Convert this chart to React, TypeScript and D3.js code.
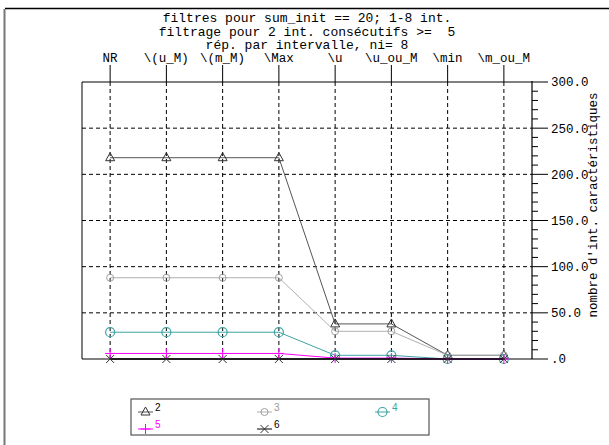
import React from "react";
import * as d3 from "d3";

const titleLines = [
  "filtres pour sum_init == 20; 1-8 int.",
  "filtrage pour 2 int. consécutifs >=  5",
  "rép. par intervalle, ni= 8",
];
const categories = ["NR", "\\(u_M)", "\\(m_M)", "\\Max", "\\u", "\\u_ou_M", "\\min", "\\m_ou_M"];
const seriesNames = ["2", "3", "4", "5", "6"];
const s2 = [218, 218, 218, 218, 38, 38, 4, 4];
const s3 = [88, 88, 88, 88, 30, 30, 4, 4];
const s4 = [29, 29, 29, 29, 4, 4, 0, 0];
const s5 = [6, 6, 6, 6, 1, 1, 0, 0];
const s6 = [0, 0, 0, 0, 0, 0, 0, 0];
const yTicksMajor = [0, 50, 100, 150, 200, 250, 300];
const yTitle = "nombre d'int. caractéristiques";

const W = 609, H = 445;
const L = 82, R = 532, T = 82, B = 359;
const MONO = "'Liberation Mono', 'Courier New', monospace";

type Sym = "tri" | "circ" | "ring" | "plus" | "x";
const seriesDefs: { name: string; values: number[]; color: string; mcolor: string; sym: Sym; text: string }[] = [
  { name: seriesNames[0], values: s2, color: "#555", mcolor: "#333", sym: "tri", text: "#000" },
  { name: seriesNames[1], values: s3, color: "#b0b0b0", mcolor: "#a0a0a0", sym: "circ", text: "#999" },
  { name: seriesNames[2], values: s4, color: "#3fa3a3", mcolor: "#3fa3a3", sym: "ring", text: "#3fa3a3" },
  { name: seriesNames[3], values: s5, color: "#ff00ff", mcolor: "#ff00ff", sym: "plus", text: "#ff00ff" },
  { name: seriesNames[4], values: s6, color: "#000", mcolor: "#333", sym: "x", text: "#000" },
];

function Marker({ sym, x, y, c }: { sym: Sym; x: number; y: number; c: string }) {
  switch (sym) {
    case "tri":
      return <path d={`M${x},${y - 5}L${x + 4.5},${y + 3}L${x - 4.5},${y + 3}Z`} fill="white" fillOpacity={0} stroke={c} strokeWidth={1} />;
    case "circ":
      return <circle cx={x} cy={y} r={3.5} fill="none" stroke={c} strokeWidth={1} />;
    case "ring":
      return <circle cx={x} cy={y} r={4.5} fill="none" stroke={c} strokeWidth={1.2} />;
    case "plus":
      return <path d={`M${x - 5},${y}H${x + 5}M${x},${y - 5}V${y + 5}`} stroke={c} strokeWidth={1} />;
    case "x":
      return <path d={`M${x - 4},${y - 4}L${x + 4},${y + 4}M${x + 4},${y - 4}L${x - 4},${y + 4}`} stroke={c} strokeWidth={1} />;
  }
}

export default function App() {
  const x = d3.scalePoint<string>().domain(categories).range([L, R]).padding(0.5);
  const y = d3.scaleLinear().domain([0, 300]).range([B, T]);
  const minorTicks = d3.range(0, 301, 10).filter((v) => v % 50 !== 0);
  const line = d3
    .line<number>()
    .x((_, i) => x(categories[i]) as number)
    .y((d) => y(d));
  const fmt = (v: number) => {
    const s = d3.format(".1f")(v);
    return s.startsWith("0") ? s.slice(1) : s;
  };

  const legendCols = [138, 257, 375];
  const legendRows = [412, 429];

  return (
    <svg width={W} height={H} style={{ position: "absolute", left: 0, top: 0, background: "white" }}>
      <rect x={0} y={0} width={W} height={H} fill="white" />
      {/* outer frame lines */}
      <line x1={5} x2={W} y1={8.5} y2={8.5} stroke="#000" strokeWidth={1.5} />
      <line x1={4.5} x2={4.5} y1={9} y2={H} stroke="#777" strokeWidth={2} />

      {/* titles */}
      {titleLines.map((t, i) => (
        <text key={i} x={307} y={22 + i * 13.5} textAnchor="middle" fontFamily={MONO} fontSize={13} xmlSpace="preserve" style={{ whiteSpace: "pre" }}>
          {t}
        </text>
      ))}

      {/* category labels and verticals */}
      {categories.map((c) => {
        const cx = x(c) as number;
        return (
          <g key={c}>
            <text x={cx} y={62} textAnchor="middle" fontFamily={MONO} fontSize={12.5}>
              {c}
            </text>
            <line x1={cx} x2={cx} y1={65} y2={T} stroke="#000" strokeWidth={1} />
            <line x1={cx} x2={cx} y1={T} y2={B} stroke="#000" strokeWidth={1} strokeDasharray="4,3" />
          </g>
        );
      })}

      {/* horizontal grid */}
      {yTicksMajor
        .filter((v) => v > 0 && v < 300)
        .map((v) => (
          <line key={v} x1={L} x2={R} y1={y(v)} y2={y(v)} stroke="#000" strokeWidth={1} strokeDasharray="4,3" />
        ))}

      {/* frame */}
      <line x1={L} x2={R} y1={T} y2={T} stroke="#000" strokeWidth={1} />
      <line x1={L} x2={L} y1={T} y2={B} stroke="#000" strokeWidth={1} />
      <line x1={L} x2={R} y1={B} y2={B} stroke="#000" strokeWidth={1} />
      <line x1={R} x2={R} y1={T - 1} y2={B} stroke="#000" strokeWidth={1.2} />

      {/* right axis ticks */}
      {yTicksMajor.map((v) => (
        <g key={v}>
          <line x1={R} x2={R + 16} y1={y(v)} y2={y(v)} stroke="#000" strokeWidth={1} />
          <text x={551} y={y(v)} dy="0.35em" fontFamily={MONO} fontSize={12.5}>
            {fmt(v)}
          </text>
        </g>
      ))}
      {minorTicks.map((v) => (
        <line key={v} x1={R} x2={R + 6} y1={y(v)} y2={y(v)} stroke="#000" strokeWidth={1} />
      ))}
      <text
        transform={`translate(597,${205}) rotate(-90)`}
        textAnchor="middle"
        fontFamily={MONO}
        fontSize={12.5}
      >
        {yTitle}
      </text>

      {/* series */}
      {seriesDefs.map((s) => (
        <g key={s.name}>
          <path d={line(s.values) ?? ""} fill="none" stroke={s.color} strokeWidth={s.name === "6" ? 1.5 : 1} />
          {s.values.map((v, i) => (
            <Marker key={i} sym={s.sym} x={x(categories[i]) as number} y={y(v)} c={s.mcolor} />
          ))}
        </g>
      ))}

      {/* legend */}
      <rect x={131} y={399} width={298} height={36} fill="none" stroke="#555" strokeWidth={1.2} />
      {seriesDefs.map((s, i) => {
        const lx = legendCols[i % 3];
        const ly = legendRows[Math.floor(i / 3)];
        return (
          <g key={s.name}>
            <line x1={lx} x2={lx + 15} y1={ly} y2={ly} stroke={s.color} strokeWidth={1} />
            <Marker sym={s.sym} x={lx + 7.5} y={ly} c={s.mcolor} />
            <text x={lx + 17} y={ly - 1} fontFamily="'Liberation Sans', Arial, sans-serif" fontSize={10} fill={s.text}>
              {s.name}
            </text>
          </g>
        );
      })}
    </svg>
  );
}
